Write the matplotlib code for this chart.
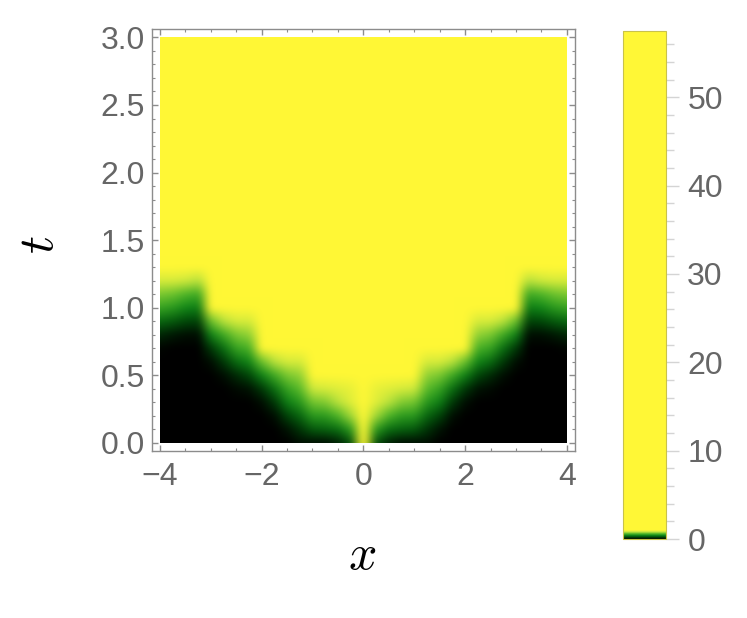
import numpy as np
import matplotlib
matplotlib.use("Agg")
import matplotlib.pyplot as plt
from matplotlib.colors import LinearSegmentedColormap, Normalize
from matplotlib.cm import ScalarMappable
from matplotlib.ticker import MultipleLocator

plt.rcParams['font.family'] = ['Liberation Sans', 'DejaVu Sans']
plt.rcParams['mathtext.fontset'] = 'cm'

# sample grid of the density data (left half is read, right half mirrors it)
x_nodes = np.arange(-4, 4.001, 0.25)
t_nodes = np.arange(0, 3.001, 0.1)
vmax = 57.5
cone_level = 57.5   # inside the cone everything is saturated yellow

# staircase blocks on the left side, columns listed outer -> inner
block1_x = [-4.0, -3.75, -3.5, -3.25]
block1_t = [1.2, 1.1, 1.0, 0.9, 0.8, 0.7]      # rows below the yellow front at t=1.3
block1_v = [[0.88, 0.88, 0.85, 0.80],
            [0.68, 0.65, 0.60, 0.55],
            [0.52, 0.48, 0.42, 0.38],
            [0.32, 0.27, 0.22, 0.20],
            [0.12, 0.08, 0.05, 0.05],
            [0.02, 0.00, 0.00, 0.00]]

block2_x = [-3.0, -2.75, -2.5, -2.25]
block2_t = [0.9, 0.8, 0.7, 0.6, 0.5, 0.4]       # front at t=1.0
block2_v = [[0.65, 0.80, 0.88, 0.88],
            [0.40, 0.55, 0.68, 0.72],
            [0.18, 0.35, 0.52, 0.58],
            [0.05, 0.18, 0.33, 0.42],
            [0.00, 0.05, 0.14, 0.22],
            [0.00, 0.00, 0.03, 0.06]]

block3_x = [-2.0, -1.75, -1.5, -1.25]
block3_t = [0.6, 0.5, 0.4, 0.3, 0.2, 0.1, 0.0]  # front at t=0.7
block3_v = [[0.65, 0.80, 0.88, 0.88],
            [0.40, 0.55, 0.68, 0.72],
            [0.18, 0.35, 0.52, 0.62],
            [0.05, 0.18, 0.38, 0.48],
            [0.00, 0.05, 0.20, 0.32],
            [0.00, 0.00, 0.07, 0.16],
            [0.00, 0.00, 0.00, 0.05]]

# centre block, front at t=0.5, x = 0 stays yellow down to t = 0
center_x = [-1.0, -0.75, -0.5, -0.25, 0.0]
center_t = [0.4, 0.3, 0.2, 0.1, 0.0]
center_v = [[0.85, 0.88, 0.90, 0.93, cone_level],
            [0.66, 0.70, 0.80, 0.90, cone_level],
            [0.48, 0.50, 0.60, 0.75, cone_level],
            [0.28, 0.30, 0.35, 0.50, cone_level],
            [0.05, 0.05, 0.10, 0.25, cone_level]]

blocks = [(block1_x, block1_t, block1_v), (block2_x, block2_t, block2_v),
          (block3_x, block3_t, block3_v), (center_x, center_t, center_v)]

grid = np.full((len(t_nodes), len(x_nodes)), cone_level)
for bx, bt, bv in blocks:
    for c, xv in enumerate(bx):
        for side in (xv, -xv):
            j = int(np.argmin(np.abs(x_nodes - side)))
            top = int(round(bt[0] / 0.1))
            grid[:top + 1, j] = 0.0
            for r, tv in enumerate(bt):
                i = int(round(tv / 0.1))
                grid[i, j] = bv[r][c]

# colour function: black -> green -> yellow within the first unit, yellow above
stops = [0.0, 0.2, 0.4, 0.6, 0.8, 1.0]
colors = [(0, 0, 0), (0.0, 0.27, 0.03), (0.06, 0.52, 0.09),
          (0.32, 0.72, 0.16), (0.76, 0.90, 0.24), (1.0, 0.97, 0.21)]
nodes = [s / vmax for s in stops] + [1.0]
cmap = LinearSegmentedColormap.from_list('ygb', list(zip(nodes, colors + [colors[-1]])), N=4096)
norm = Normalize(0, vmax)

# colour the samples, then resample smoothly (the colours are blended, like the original raster)
rgb = cmap(norm(grid))[..., :3]
fine_x = np.linspace(-4, 4, 410)
fine_t = np.linspace(0, 3, 410)
rows = np.empty((len(t_nodes), len(fine_x), 3))
for i in range(len(t_nodes)):
    for c in range(3):
        rows[i, :, c] = np.interp(fine_x, x_nodes, rgb[i, :, c])
img = np.empty((len(fine_t), len(fine_x), 3))
for j in range(len(fine_x)):
    for c in range(3):
        img[:, j, c] = np.interp(fine_t, t_nodes, rows[:, j, c])

k = np.exp(-0.5 * (np.arange(-10, 11) / 3.2) ** 2)
k /= k.sum()
for axis in (0, 1):
    pad = [(0, 0)] * 3
    pad[axis] = (10, 10)
    p = np.pad(img, pad, mode='edge')
    img = np.apply_along_axis(lambda v: np.convolve(v, k, mode='valid'), axis, p)

fig = plt.figure(figsize=(7.47, 6.18), dpi=100)
ax = fig.add_axes([0.2031, 0.2702, 0.5666, 0.6824])
ax.imshow(np.clip(img, 0, 1), origin='lower', extent=[-4, 4, 0, 3],
          interpolation='bilinear', aspect='auto')
ax.set_xlim(-4.16, 4.16)
ax.set_ylim(-0.06, 3.06)

frame_col = '#8c8c8c'
for s in ax.spines.values():
    s.set_color(frame_col)
    s.set_linewidth(1.0)
ax.xaxis.set_major_locator(MultipleLocator(2))
ax.xaxis.set_minor_locator(MultipleLocator(0.5))
ax.yaxis.set_minor_locator(MultipleLocator(0.1))
ax.set_yticks([0, 0.5, 1, 1.5, 2, 2.5, 3])
ax.set_yticklabels(['0.0', '0.5', '1.0', '1.5', '2.0', '2.5', '3.0'])
ax.tick_params(which='both', direction='in', top=True, right=True, color=frame_col,
               labelsize=23, labelcolor='#666666')
ax.tick_params(which='major', length=4, width=1)
ax.tick_params(which='minor', length=2.2, width=0.8)
ax.tick_params(axis='x', which='major', pad=8)
ax.tick_params(axis='y', which='major', pad=5)

fig.text(0.4846, 0.100, '$x$', fontsize=36, ha='center', va='center')
fig.text(0.0535, 0.6036, '$t$', fontsize=36, ha='center', va='center', rotation=90)

cax = fig.add_axes([0.8336, 0.1278, 0.0576, 0.822])
cb = fig.colorbar(ScalarMappable(norm=norm, cmap=cmap), cax=cax)
cb.outline.set_edgecolor('#c9c24a')
cb.outline.set_linewidth(0.8)
cb.set_ticks([0, 10, 20, 30, 40, 50])
cax.yaxis.set_minor_locator(MultipleLocator(2))
cax.tick_params(which='both', direction='out', color='#d4d4d4', labelsize=23,
                labelcolor='#666666')
cax.tick_params(which='major', length=9.5, width=1, pad=6)
cax.tick_params(which='minor', length=5.5, width=1)

fig.savefig('out.png', dpi=100)
